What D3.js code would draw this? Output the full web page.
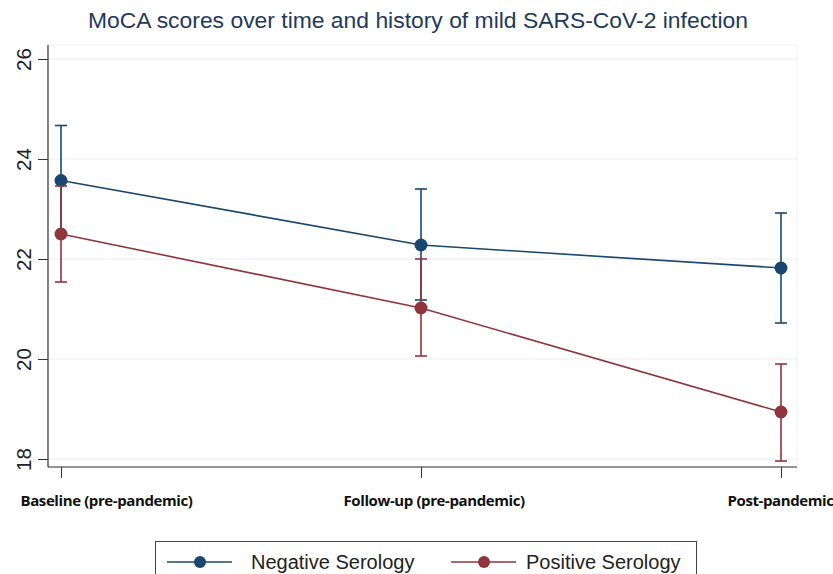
<!DOCTYPE html>
<html><head><meta charset="utf-8">
<script src="https://cdn.jsdelivr.net/npm/d3@7"></script>
<style>body{margin:0;background:#fff}svg{display:block}</style>
</head><body>
<svg id="c" width="833" height="574"></svg>
<script>
const categories = ["Baseline (pre-pandemic)", "Follow-up (pre-pandemic)", "Post-pandemic"];
const yTicks = [18, 20, 22, 24, 26];
const negMean = [23.57, 22.28, 21.82];
const negLow  = [22.47, 21.18, 20.72];
const negHigh = [24.67, 23.40, 22.92];
const posMean = [22.50, 21.02, 18.94];
const posLow  = [21.54, 20.06, 17.96];
const posHigh = [23.46, 22.00, 19.90];
const seriesNames = ["Negative Serology", "Positive Serology"];
const colors = ["#1a476f", "#90353b"];

const svg = d3.select("#c");
const x = d3.scalePoint().domain(categories).range([61, 781]);
const y = d3.scaleLinear().domain([18, 26]).range([459, 59]);
const plotL = 48, plotR = 797, plotT = 45, plotB = 467;

// plot frame (light)
svg.append("rect").attr("x", plotL).attr("y", plotT).attr("width", plotR - plotL).attr("height", plotB - plotT)
  .attr("fill", "none").attr("stroke", "#eef1f4").attr("stroke-width", 1);

// gridlines
svg.append("g").selectAll("line").data(yTicks).join("line")
  .attr("x1", plotL).attr("x2", plotR).attr("y1", d => y(d)).attr("y2", d => y(d))
  .attr("stroke", "#e9edf0").attr("stroke-width", 1.2);

// y axis
const ya = svg.append("g").attr("transform", `translate(${plotL},0)`)
  .call(d3.axisLeft(y).tickValues(yTicks).tickSize(10).tickPadding(6).tickSizeOuter(0));
ya.select(".domain").attr("d", `M0,${plotT}V${plotB}`).attr("stroke", "#333").attr("stroke-width", 1.2);
ya.selectAll(".tick line").attr("stroke", "#333");
ya.selectAll(".tick text")
  .attr("font-family", "Liberation Sans, Arial, sans-serif").attr("font-size", 20.5).attr("fill", "#222")
  .attr("text-anchor", "middle").attr("x", null).attr("dy", null)
  .attr("transform", "translate(-22,0) rotate(-90)").attr("dominant-baseline", "middle");

// x axis
const xa = svg.append("g").attr("transform", `translate(0,${plotB})`)
  .call(d3.axisBottom(x).tickSize(11).tickSizeOuter(0));
xa.select(".domain").attr("d", `M${plotL},0H${plotR}`).attr("stroke", "#333").attr("stroke-width", 1.2);
xa.selectAll(".tick line").attr("stroke", "#333");
const labelStarts = [20, 343, 727];
xa.selectAll(".tick text")
  .attr("font-family", "Open Sans, Liberation Sans, sans-serif").attr("font-weight", "bold")
  .attr("font-size", 15).attr("fill", "#111").attr("letter-spacing", -0.4)
  .attr("text-anchor", "start").attr("dy", null).attr("y", 506 - plotB)
  .attr("x", (d, i) => labelStarts[i] - x(d));

// series
const series = [
  {mean: negMean, lo: negLow, hi: negHigh, color: colors[0]},
  {mean: posMean, lo: posLow, hi: posHigh, color: colors[1]}
];
const line = d3.line().x((d, i) => x(categories[i])).y(d => y(d));
series.forEach(s => {
  const g = svg.append("g");
  categories.forEach((c, i) => {
    g.append("line").attr("x1", x(c)).attr("x2", x(c)).attr("y1", y(s.lo[i])).attr("y2", y(s.hi[i]))
      .attr("stroke", s.color).attr("stroke-width", 1.6);
    [s.lo[i], s.hi[i]].forEach(v => g.append("line").attr("x1", x(c) - 6).attr("x2", x(c) + 6)
      .attr("y1", y(v)).attr("y2", y(v)).attr("stroke", s.color).attr("stroke-width", 1.6));
  });
  g.append("path").attr("d", line(s.mean)).attr("fill", "none").attr("stroke", s.color).attr("stroke-width", 1.6);
  g.selectAll("circle").data(s.mean).join("circle")
    .attr("cx", (d, i) => x(categories[i])).attr("cy", d => y(d)).attr("r", 6.5).attr("fill", s.color);
});

// title
svg.append("text").attr("x", 418).attr("y", 28).attr("text-anchor", "middle")
  .attr("font-family", "Liberation Sans, Arial, sans-serif").attr("font-size", 22.5).attr("fill", "#1e3a5c")
  .attr("textLength", 660).attr("lengthAdjust", "spacingAndGlyphs")
  .text("MoCA scores over time and history of mild SARS-CoV-2 infection");

// legend
const lg = svg.append("g");
lg.append("rect").attr("x", 155.5).attr("y", 541.5).attr("width", 541).attr("height", 45)
  .attr("fill", "#fff").attr("stroke", "#444").attr("stroke-width", 1);
const items = [{x0: 167, tx: 251}, {x0: 451, tx: 526}];
items.forEach((it, k) => {
  lg.append("line").attr("x1", it.x0).attr("x2", it.x0 + 65).attr("y1", 562).attr("y2", 562)
    .attr("stroke", colors[k]).attr("stroke-width", 1.6);
  lg.append("circle").attr("cx", it.x0 + 33).attr("cy", 562).attr("r", 6).attr("fill", colors[k]);
  lg.append("text").attr("x", it.tx).attr("y", 569)
    .attr("font-family", "Liberation Sans, Arial, sans-serif").attr("font-size", 20).attr("fill", "#222")
    .text(seriesNames[k]);
});
</script>
</body></html>
